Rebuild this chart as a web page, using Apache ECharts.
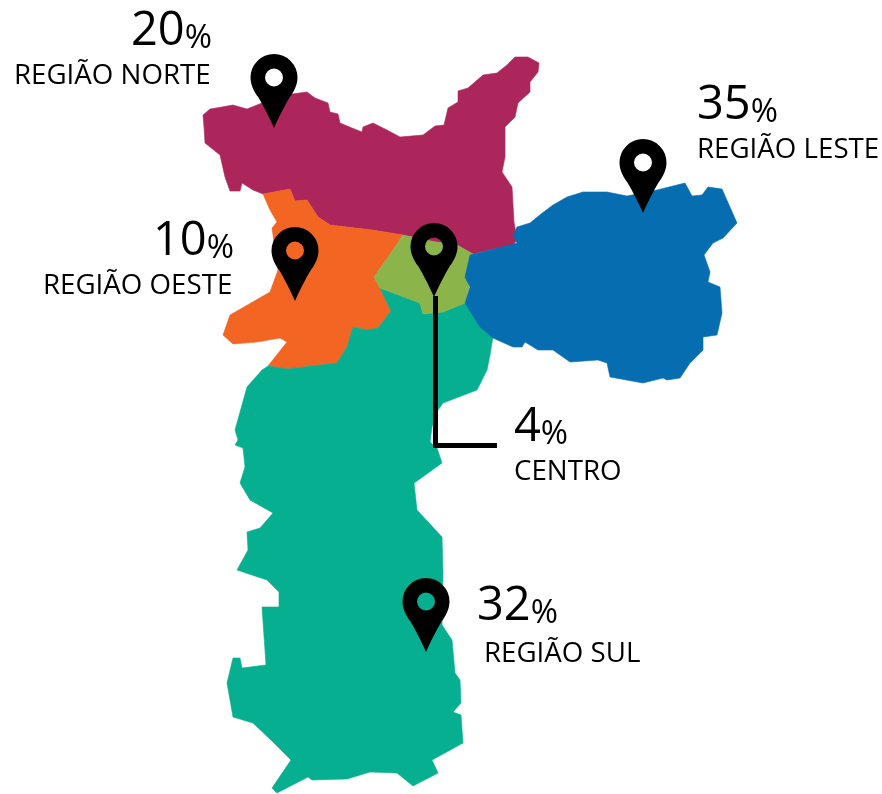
<!DOCTYPE html>
<html>
<head>
<meta charset="utf-8">
<title>Regiões</title>
<script src="https://cdn.jsdelivr.net/npm/echarts@6/dist/echarts.min.js"></script>
<style>
  html, body { margin: 0; padding: 0; background: #fff; }
  #main { width: 882px; height: 794px; }
</style>
</head>
<body>
<div id="main"></div>
<script>
var regions = ['REGIÃO NORTE', 'REGIÃO OESTE', 'REGIÃO SUL', 'CENTRO', 'REGIÃO LESTE'];
var shares = [20, 10, 32, 4, 35];

// outlines, [x, y] with y going down
var norteShape = [[203,115],[210,109],[222,107],[233,105],[247,109],[262,103],[280,97],[292,94],[307,92],[315,98],[328,103],[330,112],[338,114],[340,123],[352,128],[362,132],[363,127],[373,123],[387,130],[400,137],[423,135],[435,126],[444,125],[448,108],[458,102],[458,91],[468,88],[483,75],[497,73],[507,65],[515,57],[528,57],[539,63],[538,72],[530,82],[530,92],[518,103],[515,117],[505,127],[505,157],[502,172],[512,187],[514,222],[517,240],[513,245],[490,250],[473,254],[457,245],[433,241.5],[403,235],[372,230],[330,225],[318,217],[307,200],[295,201],[290,189],[263,194],[253,190],[242,183],[240,191],[230,191],[225,177],[220,155],[205,143],[204,127]];
var oesteShape = [[263,194],[290,189],[295,201],[307,200],[318,217],[330,225],[372,230],[403,235],[393,250],[374,277],[380,288],[391,311],[378,328],[367,330],[353,327],[347,347],[337,363],[287,369],[268,366],[287,342],[280,338],[257,342],[233,344],[223,335],[230,315],[270,292],[278,270],[272,228],[277,222],[270,210]];
var centroShape = [[403,235],[433,241.5],[457,245],[473,254],[467,270],[469,288],[465,303],[443,312],[423,314],[420,303],[380,288],[374,277],[393,250]];
var lesteShape = [[517,227],[530,223],[541,214],[553,205],[567,197],[583,192],[607,192],[627,196],[657,190],[685,183],[692,196],[702,195],[708,187],[722,189],[737,223],[723,238],[713,243],[704,255],[710,272],[708,282],[720,287],[722,313],[717,335],[703,337],[703,350],[690,363],[680,378],[667,380],[663,378],[643,383],[610,377],[607,363],[598,360],[570,362],[553,350],[538,350],[525,342],[522,347],[513,347],[493,338],[480,327],[465,303],[470,287],[465,277],[470,255],[490,250],[517,243],[513,235]];
var sulShape = [[268,366],[287,369],[337,363],[347,347],[353,327],[367,330],[378,328],[391,311],[380,288],[420,303],[423,314],[443,312],[465,303],[477,320],[493,337],[490,355],[487,370],[477,390],[443,403],[438,410],[432,427],[430,442],[437,448],[442,463],[417,481],[414,483],[417,510],[442,537],[443,573],[442,625],[452,640],[455,673],[460,680],[461,703],[453,712],[461,715],[463,743],[432,760],[438,773],[413,786],[397,773],[370,772],[347,779],[312,780],[308,777],[277,793],[272,788],[291,760],[273,742],[253,723],[233,717],[227,683],[233,658],[240,658],[242,668],[266,665],[262,607],[279,607],[279,592],[267,580],[237,570],[248,550],[247,532],[260,528],[273,513],[250,500],[240,483],[245,467],[243,448],[235,445],[238,440],[235,430],[247,387],[262,370]];

var pinTips = [[274,128],[295,301],[426,652],[434,297],[643,213]];
var shareAnchors = [[131,32],[153,242],[477,607],[514,428],[697,106]];
var nameAnchors = [[14,76],[43,286],[484,654],[514,472],[697,150]];
var leaderLine = [[435.5,296],[435.5,445.5],[497,445.5]];

var shapes = [norteShape, oesteShape, sulShape, centroShape, lesteShape];
var colors = ['#AC265C', '#F26522', '#06AF8F', '#8BB44B', '#066EB0'];

// pin with a real hole, so the region shows through it
var pinPath = 'path://M23.5 74C20 66 13 52 7.8 43.3C3 37 0 30 0 23.5A23.5 23.5 0 1 1 47 23.5C47 30 44 37 39.2 43.3C34 52 27 66 23.5 74Z' +
  'M23.5 14.5A9 9 0 1 0 23.5 32.5A9 9 0 1 0 23.5 14.5Z';

function toGeo(p) {
  return [p[0], -p[1]];
}

var geoJson = {
  type: 'FeatureCollection',
  features: regions.map(function (name, i) {
    var ring = shapes[i].map(toGeo);
    ring.push(ring[0]);
    return {
      type: 'Feature',
      properties: { name: name },
      geometry: { type: 'Polygon', coordinates: [ring] }
    };
  })
};

echarts.registerMap('sp', geoJson);

var chart = echarts.init(document.getElementById('main'));

var fontFamily = '"Open Sans", sans-serif';

chart.setOption({
  animation: false,
  backgroundColor: '#fff',
  geo: {
    map: 'sp',
    silent: true,
    roam: false,
    aspectScale: 1,
    left: 0,
    top: 0,
    width: 882,
    height: 794,
    boundingCoords: [[0, 0], [882, -794]],
    label: { show: false },
    emphasis: { disabled: true },
    regions: regions.map(function (name, i) {
      return {
        name: name,
        itemStyle: { areaColor: colors[i], borderColor: colors[i], borderWidth: 0.6 }
      };
    })
  },
  series: [
    {
      type: 'lines',
      coordinateSystem: 'geo',
      polyline: true,
      silent: true,
      z: 3,
      lineStyle: { color: '#000', width: 5, opacity: 1, curveness: 0 },
      data: [{ coords: leaderLine.map(toGeo) }]
    },
    {
      type: 'scatter',
      coordinateSystem: 'geo',
      silent: true,
      z: 4,
      symbol: pinPath,
      symbolSize: [47, 74],
      symbolKeepAspect: false,
      symbolOffset: [0, '-50%'],
      itemStyle: { color: '#000', opacity: 1 },
      data: pinTips.map(toGeo)
    },
    {
      type: 'scatter',
      coordinateSystem: 'geo',
      silent: true,
      z: 5,
      symbolSize: 0,
      itemStyle: { opacity: 1 },
      label: {
        show: true,
        position: 'inside',
        align: 'left',
        verticalAlign: 'middle',
        formatter: function (p) {
          return '{n|' + shares[p.dataIndex] + '}{p|%}';
        },
        rich: {
          n: { fontFamily: fontFamily, fontSize: 47, color: '#000' },
          p: { fontFamily: fontFamily, fontSize: 33, color: '#000', verticalAlign: 'bottom' }
        }
      },
      data: shareAnchors.map(toGeo)
    },
    {
      type: 'scatter',
      coordinateSystem: 'geo',
      silent: true,
      z: 5,
      symbolSize: 0,
      itemStyle: { opacity: 1 },
      label: {
        show: true,
        position: 'inside',
        align: 'left',
        verticalAlign: 'middle',
        fontFamily: fontFamily,
        fontSize: 27.7,
        color: '#000',
        formatter: function (p) {
          return regions[p.dataIndex];
        }
      },
      data: nameAnchors.map(toGeo)
    }
  ]
});
</script>
</body>
</html>
